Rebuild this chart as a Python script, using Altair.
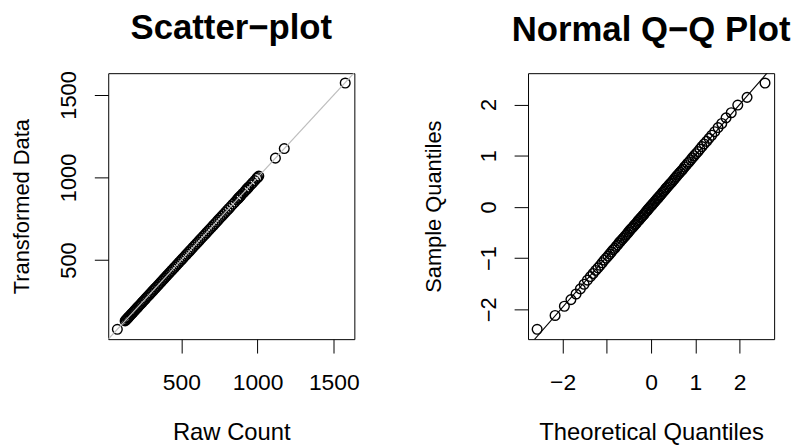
import altair as alt
import pandas as pd
import numpy as np
from statistics import NormalDist

# ---------------- data ----------------
raw_count = [80, 131, 138, 145, 150, 156, 163, 170, 176, 183, 190, 197, 205, 212, 220,
             228, 236, 244, 252, 260, 268, 276, 284, 292, 300, 309, 318, 327, 336, 345,
             354, 363, 372, 381, 390, 399, 408, 417, 426, 436, 446, 456, 466, 476, 486,
             496, 506, 516, 526, 536, 546, 556, 566, 577, 588, 599, 610, 621, 632, 643,
             654, 665, 676, 687, 698, 709, 720, 731, 742, 753, 764, 776, 788, 800, 812,
             825, 838, 851, 864, 872, 877, 884, 890, 903, 916, 925, 929, 936, 942, 955,
             968, 981, 994, 1000, 1008, 1117, 1175, 1575]
transformed = [80, 131, 138, 145, 150, 156, 163, 170, 176, 183, 190, 197, 205, 212, 220,
               228, 236, 244, 252, 260, 268, 276, 284, 292, 300, 309, 318, 327, 336, 345,
               354, 363, 372, 381, 390, 399, 408, 417, 426, 436, 446, 456, 466, 476, 486,
               496, 506, 516, 526, 536, 546, 556, 566, 577, 588, 599, 610, 621, 632, 643,
               654, 665, 676, 687, 698, 709, 720, 731, 742, 753, 764, 776, 788, 800, 812,
               825, 838, 851, 864, 872, 877, 884, 890, 903, 916, 925, 929, 936, 942, 955,
               968, 981, 994, 1000, 1008, 1117, 1175, 1572]

sample_quantiles = [
    -2.39, -2.12, -1.94, -1.81, -1.70, -1.60, -1.51, -1.43, -1.36, -1.30,
    -1.24, -1.19, -1.14, -1.09, -1.04, -1.00, -0.96, -0.92, -0.88, -0.84,
    -0.81, -0.77, -0.74, -0.70, -0.67, -0.64, -0.61, -0.58, -0.55, -0.52,
    -0.49, -0.46, -0.43, -0.41, -0.38, -0.35, -0.33, -0.30, -0.27, -0.25,
    -0.22, -0.20, -0.17, -0.15, -0.12, -0.09, -0.07, -0.04, -0.02, 0.01,
    0.03, 0.06, 0.08, 0.11, 0.13, 0.16, 0.18, 0.21, 0.23, 0.26,
    0.29, 0.31, 0.34, 0.37, 0.39, 0.42, 0.45, 0.47, 0.50, 0.53,
    0.56, 0.59, 0.62, 0.65, 0.68, 0.71, 0.74, 0.78, 0.81, 0.85,
    0.88, 0.92, 0.96, 1.00, 1.04, 1.08, 1.13, 1.18, 1.23, 1.28,
    1.34, 1.40, 1.47, 1.55, 1.63, 1.74, 1.84, 1.99, 2.14, 2.42]

scatter_ticks = [500, 1000, 1500]
qq_ticks = [-2, -1, 0, 1, 2]

# ---------------- helpers ----------------
FONT = "Liberation Sans"
W, H = 248, 268


def r_range(lo, hi):
    d = (hi - lo) * 0.04
    return [lo - d, hi + d]


def axis(values, title, orient, fmt, title_pos, label_expr=None):
    kw = dict(values=values, title=title, format=fmt, domain=False, grid=False,
              ticks=True, tickSize=14, tickWidth=1, tickColor="black",
              labelFont=FONT, labelColor="black",
              titleFont=FONT, titleFontWeight="normal",
              titleColor="black", labelBaseline="alphabetic",
              titleBaseline="alphabetic", labelFlush=False, labelOverlap=False)
    if orient == "x":
        kw.update(labelPadding=37, titleY=title_pos, titleAngle=0,
                  labelFontSize=23, titleFontSize=24)
    else:
        kw.update(labelAngle=-90, labelAlign="center", labelPadding=19,
                  titleX=title_pos, titleAngle=-90,
                  labelFontSize=22, titleFontSize=22)
    if label_expr:
        kw["labelExpr"] = label_expr
    return alt.Axis(**kw)


def title(txt):
    return alt.TitleParams(txt, font=FONT, fontSize=35, fontWeight="bold",
                           color="black", anchor="middle", frame="group",
                           baseline="alphabetic", offset=-3)


# ---------------- scatter ----------------
sdf = pd.DataFrame({"raw": raw_count, "tr": transformed})
xdom = r_range(min(raw_count), max(raw_count))
ydom = r_range(min(transformed), max(transformed))

xs = alt.Scale(domain=xdom, nice=False, zero=False)
ys = alt.Scale(domain=ydom, nice=False, zero=False)

pts = alt.Chart(sdf).mark_point(shape="circle", filled=False, color="black",
                                size=95, strokeWidth=1.4, opacity=1).encode(
    x=alt.X("raw:Q", scale=xs, axis=axis(scatter_ticks, "Raw Count", "x", "d", 101)),
    y=alt.Y("tr:Q", scale=ys, axis=axis(scatter_ticks, "Transformed Data", "y", "d", -80)),
)
lo, hi = min(xdom[0], ydom[0]) - 100, max(xdom[1], ydom[1]) + 100
ref = alt.Chart(pd.DataFrame({"a": [lo, hi], "b": [lo, hi]})).mark_line(
    color="#bebebe", strokeWidth=1.2, clip=True).encode(
    x=alt.X("a:Q", scale=xs), y=alt.Y("b:Q", scale=ys))

left = alt.layer(pts, ref).properties(width=W, height=H, title=title("Scatter\u2212plot"))

# ---------------- normal Q-Q ----------------
n = len(sample_quantiles)
nd = NormalDist()
t_lo, t_hi = nd.inv_cdf(0.5 / n), nd.inv_cdf(1 - 0.5 / n)
qx = alt.Scale(domain=r_range(t_lo, t_hi), nice=False, zero=False)
qy = alt.Scale(domain=r_range(min(sample_quantiles), max(sample_quantiles)),
               nice=False, zero=False)

qdf = pd.DataFrame({"sample": sample_quantiles})
qpts = alt.Chart(qdf).transform_window(
    rank="row_number()", sort=[alt.SortField("sample", order="ascending")]
).transform_joinaggregate(n="count()").transform_calculate(
    theo="quantileNormal((datum.rank - 0.5) / datum.n)"
).mark_point(shape="circle", filled=False, color="black", size=95,
             strokeWidth=1.4, opacity=1).encode(
    x=alt.X("theo:Q", scale=qx,
            axis=axis(qq_ticks, "Theoretical Quantiles", "x", "d", 101,
                      "datum.value == -1 ? '' : datum.label")),
    y=alt.Y("sample:Q", scale=qy, axis=axis(qq_ticks, "Sample Quantiles", "y", "d", -88)),
)

# qqline through the quartiles (as R's qqline)
q1, q3 = np.percentile(sample_quantiles, [25, 75])
x1, x3 = nd.inv_cdf(0.25), nd.inv_cdf(0.75)
slope = (q3 - q1) / (x3 - x1)
inter = q1 - slope * x1
lx = [t_lo - 1, t_hi + 1]
qline = alt.Chart(pd.DataFrame({"a": lx, "b": [inter + slope * v for v in lx]})).mark_line(
    color="black", strokeWidth=1.1, clip=True).encode(
    x=alt.X("a:Q", scale=qx), y=alt.Y("b:Q", scale=qy))

right = alt.layer(qpts, qline).properties(width=W, height=H,
                                          title=title("Normal Q\u2212Q Plot"))

chart = alt.hconcat(left, right, spacing=62).properties(
    padding={"left": 2, "top": 0, "right": 0, "bottom": 0},
    background="white",
).configure_view(stroke="black", strokeWidth=1)

chart.save("out.html", embed_options={"renderer": "svg", "actions": False})
